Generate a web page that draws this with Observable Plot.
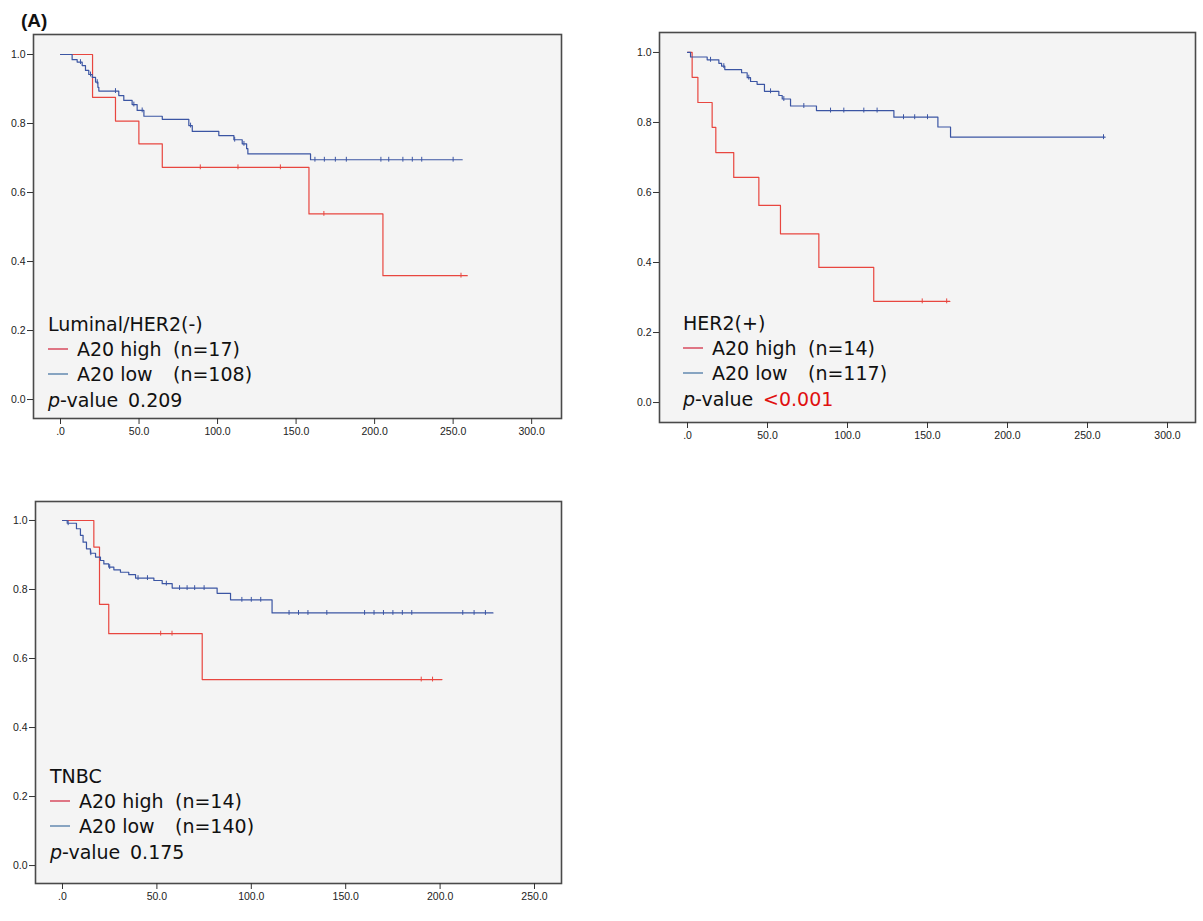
<!DOCTYPE html>
<html>
<head>
<meta charset="utf-8">
<script src="https://cdn.jsdelivr.net/npm/d3@7"></script>
<script src="https://cdn.jsdelivr.net/npm/@observablehq/plot@0.6"></script>
<style>
  body { margin: 0; background: #ffffff; }
  #root { position: relative; width: 1203px; height: 921px; overflow: hidden; background: #fff; }
  .panel { position: absolute; }
  #overlay { position: absolute; left: 0; top: 0; pointer-events: none; }
</style>
</head>
<body>
<div id="root"></div>
<script>
// ---------- data ----------
const yTicks = [0, 0.2, 0.4, 0.6, 0.8, 1.0];
const xTicksTop = [0, 50, 100, 150, 200, 250, 300];
const xTicksBottom = [0, 50, 100, 150, 200, 250];

const panelTitles = ["Luminal/HER2(-)", "HER2(+)", "TNBC"];
const groupNames = ["A20 high", "A20 low"];
const highN = [17, 14, 14];
const lowN = [108, 117, 140];
const pValues = ["0.209", "<0.001", "0.175"];

// Luminal/HER2(-)
const lumHighTime = [0, 20.4, 35.0, 49.9, 64.8, 158.2, 205.3, 259];
const lumHighSurv = [1, 0.876, 0.807, 0.741, 0.673, 0.538, 0.359, 0.359];
const lumLowTime = [0, 7.4, 10.6, 13.8, 15.9, 18.0, 20.2, 22.3, 23.8, 24.4, 37.1, 40.3, 45.6, 48.8, 53.1, 64.8, 81.7, 83.9, 100.8, 110.4, 115.7, 118.5, 119.3, 159.2, 255.8];
const lumLowSurv = [1, 0.985, 0.978, 0.968, 0.954, 0.942, 0.934, 0.920, 0.905, 0.894, 0.881, 0.867, 0.855, 0.838, 0.821, 0.812, 0.794, 0.777, 0.765, 0.753, 0.741, 0.727, 0.712, 0.695, 0.695];
const lumHighCensor = [89, 113, 140, 167.7, 255];
const lumLowCensor = [12.7, 19.1, 23.4, 35.0, 46.7, 52.0, 82.8, 110.9, 116.8, 162, 168, 175, 182, 204, 209, 218, 224, 230, 250];

// HER2(+)
const herHighTime = [0, 2.9, 6.5, 15.4, 17.7, 28.9, 44.6, 58.1, 82.1, 116.4, 164];
const herHighSurv = [1, 0.929, 0.857, 0.786, 0.714, 0.643, 0.563, 0.482, 0.386, 0.289, 0.289];
const herLowTime = [0, 1.9, 12.3, 19.6, 21.3, 23.3, 33.8, 37.3, 39.4, 43.5, 48.1, 57.1, 59.2, 64.4, 80.6, 129, 156.5, 164.4, 261];
const herLowSurv = [1, 0.987, 0.979, 0.969, 0.961, 0.951, 0.942, 0.928, 0.917, 0.909, 0.889, 0.877, 0.867, 0.847, 0.834, 0.815, 0.787, 0.758, 0.758];
const herHighCensor = [146.7, 162];
const herLowCensor = [14.4, 22.7, 38.3, 51.9, 60.2, 72.7, 89.4, 97.7, 110.2, 118.5, 135, 142, 150, 260];

// TNBC
const tnHighTime = [0, 16.6, 19.6, 24.5, 74.0, 201];
const tnHighSurv = [1, 0.923, 0.757, 0.672, 0.539, 0.539];
const tnLowTime = [0, 2.5, 7.4, 9.5, 10.9, 12.7, 14.8, 17.5, 20.1, 21.9, 24.5, 27.2, 30.7, 35.1, 38.7, 48.4, 52.8, 58.1, 81.9, 89.0, 111.0, 228];
const tnLowSurv = [1, 0.992, 0.976, 0.957, 0.937, 0.918, 0.905, 0.894, 0.884, 0.874, 0.865, 0.857, 0.850, 0.843, 0.833, 0.826, 0.817, 0.804, 0.789, 0.770, 0.732, 0.732];
const tnHighCensor = [52, 58, 190, 196];
const tnLowCensor = [3, 15, 25, 40, 45, 55, 62, 66, 70, 75, 95, 100, 105, 120, 125, 130, 140, 160, 165, 170, 175, 180, 185, 212, 218, 224];

// ---------- styling / layout ----------
const RED = "#e8463f";
const BLUE = "#3b55a3";
const root = document.getElementById("root");

function toRows(times, surv) { return times.map((t, i) => ({ t, s: surv[i] })); }
function survAt(times, surv, t) {
  let s = surv[0];
  for (let i = 0; i < times.length; i++) if (times[i] <= t) s = surv[i];
  return s;
}
function censRows(cens, times, surv) { return cens.map(t => ({ t, s: survAt(times, surv, t) })); }
const fmtX = d => d === 0 ? ".0" : d3.format(".1f")(d);

const panels = [
  { left: 0, top: 0, width: 600, height: 450, mL: 33, mR: 39, mT: 34, mB: 32,
    xDomain: [-17.2, 319], yDomain: [-0.055, 1.058], xTicks: xTicksTop,
    hT: lumHighTime, hS: lumHighSurv, lT: lumLowTime, lS: lumLowSurv, hC: lumHighCensor, lC: lumLowCensor },
  { left: 600, top: 0, width: 603, height: 460, mL: 59, mR: 8, mT: 32, mB: 38,
    xDomain: [-17.5, 317.5], yDomain: [-0.057, 1.057], xTicks: xTicksTop,
    hT: herHighTime, hS: herHighSurv, lT: herLowTime, lS: herLowSurv, hC: herHighCensor, lC: herLowCensor },
  { left: 0, top: 470, width: 600, height: 451, mL: 35, mR: 39, mT: 31, mB: 38,
    xDomain: [-14.3, 264.3], yDomain: [-0.052, 1.055], xTicks: xTicksBottom,
    hT: tnHighTime, hS: tnHighSurv, lT: tnLowTime, lS: tnLowSurv, hC: tnHighCensor, lC: tnLowCensor }
];

panels.forEach(p => {
  const high = toRows(p.hT, p.hS);
  const low = toRows(p.lT, p.lS);
  const hc = censRows(p.hC, p.hT, p.hS);
  const lc = censRows(p.lC, p.lT, p.lS);
  const chart = Plot.plot({
    width: p.width, height: p.height,
    marginLeft: p.mL, marginRight: p.mR, marginTop: p.mT, marginBottom: p.mB,
    x: { domain: p.xDomain },
    y: { domain: p.yDomain },
    style: { fontFamily: "'Liberation Sans', Arial, sans-serif", fontSize: "10.5px", color: "#222", background: "transparent", overflow: "visible" },
    marks: [
      Plot.frame({ fill: "#f4f4f4", stroke: null }),
      Plot.line(high, { x: "t", y: "s", curve: "step-after", stroke: RED, strokeWidth: 1.2 }),
      Plot.ruleX(hc, { x: "t", y1: d => d.s - 0.007, y2: d => d.s + 0.007, stroke: RED, strokeWidth: 1 }),
      Plot.line(low, { x: "t", y: "s", curve: "step-after", stroke: BLUE, strokeWidth: 1.2 }),
      Plot.ruleX(lc, { x: "t", y1: d => d.s - 0.007, y2: d => d.s + 0.007, stroke: BLUE, strokeWidth: 1 }),
      Plot.frame({ stroke: "#4a4a4a", strokeWidth: 1.6 }),
      Plot.axisY({ ticks: yTicks, tickFormat: d3.format(".1f"), tickSize: 6, tickPadding: 2, label: null, stroke: "#333" }),
      Plot.axisX({ ticks: p.xTicks, tickFormat: fmtX, tickSize: 6, tickPadding: 3, label: null, stroke: "#333" })
    ]
  });
  chart.classList.add("panel");
  chart.style.left = p.left + "px";
  chart.style.top = p.top + "px";
  root.appendChild(chart);
});

// ---------- overlay: panel label + in-plot legends ----------
const svg = d3.select(root).append("svg").attr("id", "overlay").attr("width", 1203).attr("height", 921);
svg.append("text").attr("x", 21).attr("y", 27)
  .attr("font-family", "'Liberation Sans', Arial, sans-serif").attr("font-weight", "bold").attr("font-size", 19)
  .attr("fill", "#111").text("(A)");

const legendPos = [ { x: 48, b: 331 }, { x: 683, b: 330 }, { x: 50, b: 783 } ];
const legendSampleColors = ["#d0203a", "#3f6e9e"];
legendPos.forEach((lp, i) => {
  const g = svg.append("g").attr("font-family", "'DejaVu Sans', sans-serif").attr("font-size", 19).attr("fill", "#111");
  g.append("text").attr("x", lp.x).attr("y", lp.b).text(panelTitles[i]);
  const rows = [[groupNames[0], highN[i]], [groupNames[1], lowN[i]]];
  rows.forEach((r, j) => {
    const base = lp.b + 25 + j * 25;
    g.append("line").attr("x1", lp.x).attr("x2", lp.x + 20).attr("y1", base - 7).attr("y2", base - 7)
      .attr("stroke", legendSampleColors[j]).attr("stroke-width", 1.2);
    g.append("text").attr("x", lp.x + 29).attr("y", base).text(r[0]);
    g.append("text").attr("x", lp.x + 125).attr("y", base).text("(n=" + r[1] + ")");
  });
  const pb = lp.b + 76;
  const pt = g.append("text").attr("x", lp.x).attr("y", pb);
  pt.append("tspan").attr("font-style", "italic").text("p");
  pt.append("tspan").text("-value");
  g.append("text").attr("x", lp.x + 80).attr("y", pb)
    .attr("fill", pValues[i].startsWith("<") ? "#e01010" : "#111").text(pValues[i]);
});
</script>
</body>
</html>
